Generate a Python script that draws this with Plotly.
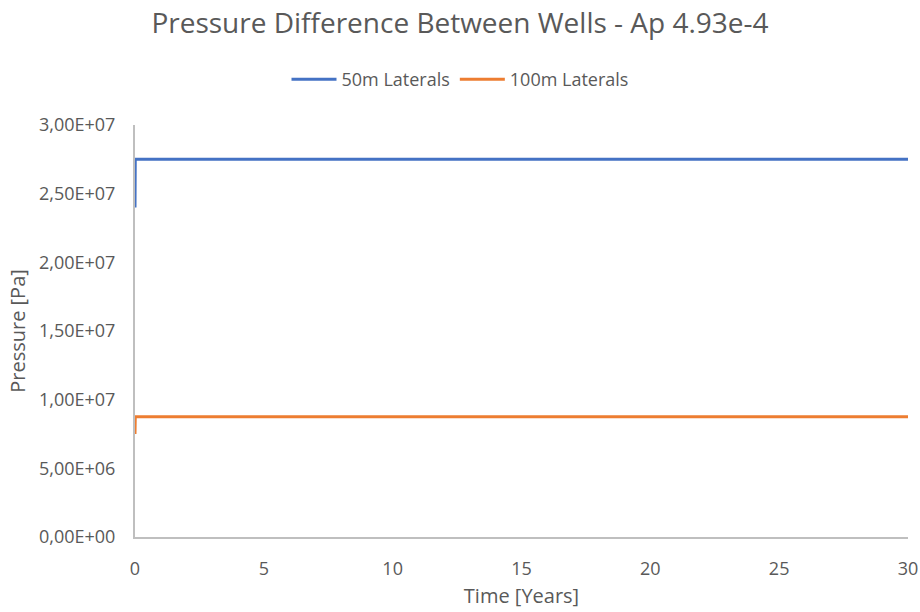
import plotly.graph_objects as go

# Simulation time in years and pressure difference between wells in Pa
time_years = [0, 0.01, 1, 5, 10, 15, 20, 25, 30]
laterals_50m = [2.40e7, 2.75e7, 2.75e7, 2.75e7, 2.75e7, 2.75e7, 2.75e7, 2.75e7, 2.75e7]
laterals_100m = [7.5e6, 8.75e6, 8.75e6, 8.75e6, 8.75e6, 8.75e6, 8.75e6, 8.75e6, 8.75e6]

y_tick_vals = [0, 5e6, 1e7, 1.5e7, 2e7, 2.5e7, 3e7]
y_tick_text = ["0,00E+00", "5,00E+06", "1,00E+07", "1,50E+07", "2,00E+07", "2,50E+07", "3,00E+07"]
x_tick_vals = [0, 5, 10, 15, 20, 25, 30]

grey = "#595959"
font_family = "Open Sans, Noto Sans, sans-serif"

fig = go.Figure()
fig.add_trace(go.Scatter(x=time_years, y=laterals_50m, mode="lines", name="50m Laterals",
                         line=dict(color="#4472C4", width=3)))
fig.add_trace(go.Scatter(x=time_years, y=laterals_100m, mode="lines", name="100m Laterals",
                         line=dict(color="#ED7D31", width=3)))

fig.update_layout(
    width=920, height=612,
    paper_bgcolor="white", plot_bgcolor="white",
    margin=dict(l=135, r=12, t=125, b=75, autoexpand=False),
    font=dict(family=font_family, color=grey, size=18),
    title=dict(text="Pressure Difference Between Wells - Ap 4.93e-4",
               x=0.5, xanchor="center", y=0.962, yanchor="middle",
               font=dict(size=28, color=grey)),
    legend=dict(orientation="h", xref="container", x=0.5, xanchor="center",
                y=0.87, yanchor="middle", yref="container",
                font=dict(size=18, color=grey), itemwidth=45, tracegroupgap=0),
    showlegend=True,
)
fig.update_xaxes(range=[0, 30], tickvals=x_tick_vals, showgrid=False, zeroline=False,
                 showline=True, linecolor="#BFBFBF", linewidth=2, ticks="",
                 ticklabelstandoff=14, automargin=False,
                 tickfont=dict(size=18, color=grey),
                 title=dict(text="Time [Years]", font=dict(size=20, color=grey), standoff=10))
fig.update_yaxes(range=[0, 3e7], tickvals=y_tick_vals, ticktext=y_tick_text, showgrid=False,
                 zeroline=False, showline=True, linecolor="#BFBFBF", linewidth=2, ticks="",
                 ticklabelstandoff=14, automargin=False,
                 tickfont=dict(size=18, color=grey),
                 title=dict(text="Pressure [Pa]", font=dict(size=20, color=grey), standoff=8))

fig.write_html("out.html")
